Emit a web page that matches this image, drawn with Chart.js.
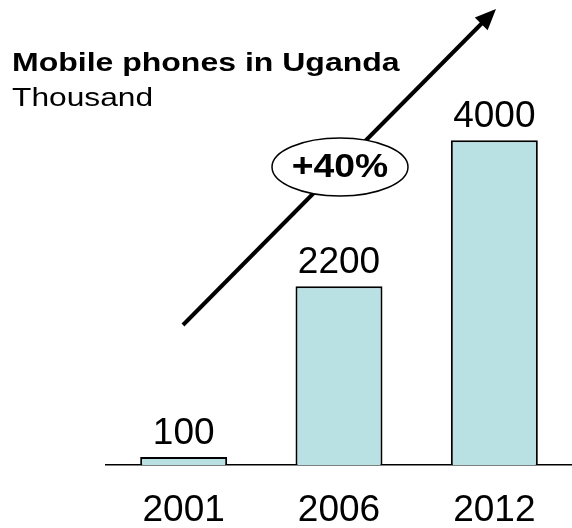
<!DOCTYPE html>
<html>
<head>
<meta charset="utf-8">
<title>Mobile phones in Uganda</title>
<script src="https://cdn.jsdelivr.net/npm/chart.js@4"></script>
<style>
  html, body { margin: 0; padding: 0; background: #fff; }
  #wrap { position: relative; width: 572px; height: 528px; }
</style>
</head>
<body>
<div id="wrap"><canvas id="phonesChart"></canvas></div>
<script>
const years = ['2001', '2006', '2012'];
const phones = [100, 2200, 4000];
const titleText = 'Mobile phones in Uganda';
const unitText = 'Thousand';
const growthText = '+40%';

const FONT = '"Liberation Sans", Arial, sans-serif';

// text helper: draws with an optional horizontal stretch
function stretchText(ctx, text, x, y, font, sx, align) {
    ctx.save();
    ctx.font = font;
    ctx.textAlign = align || 'left';
    ctx.textBaseline = 'alphabetic';
    ctx.fillStyle = '#000';
    ctx.translate(x, y);
    ctx.scale(sx, 1);
    ctx.fillText(text, 0, 0);
    ctx.restore();
}

// value over each bar
const barValues = {
    id: 'barValues',
    afterDatasetsDraw(chart) {
        const ctx = chart.ctx;
        const meta = chart.getDatasetMeta(0);
        meta.data.forEach((bar, i) => {
            stretchText(ctx, String(chart.data.datasets[0].data[i]), bar.x, bar.y - 13,
                '37px ' + FONT, 1, 'center');
        });
    }
};

// heading, growth arrow and the +40% bubble
const decorations = {
    id: 'decorations',
    afterDraw(chart) {
        const ctx = chart.ctx;
        stretchText(ctx, titleText, 12, 71, 'bold 25px ' + FONT, 1.28, 'left');
        stretchText(ctx, unitText, 12, 106, '26px ' + FONT, 1.22, 'left');

        // arrow
        const x0 = 183, y0 = 325, x1 = 496, y1 = 9;
        const ang = Math.atan2(y1 - y0, x1 - x0);
        const headLen = 21, headHalf = 9;
        const bx = x1 - headLen * Math.cos(ang), by = y1 - headLen * Math.sin(ang);
        ctx.save();
        ctx.strokeStyle = '#000';
        ctx.lineWidth = 4;
        ctx.beginPath();
        ctx.moveTo(x0, y0);
        ctx.lineTo(bx + 2 * Math.cos(ang), by + 2 * Math.sin(ang));
        ctx.stroke();
        ctx.fillStyle = '#000';
        ctx.beginPath();
        ctx.moveTo(x1, y1);
        ctx.lineTo(bx + headHalf * Math.sin(ang), by - headHalf * Math.cos(ang));
        ctx.lineTo(bx - headHalf * Math.sin(ang), by + headHalf * Math.cos(ang));
        ctx.closePath();
        ctx.fill();

        // bubble
        ctx.beginPath();
        ctx.ellipse(340, 167, 68, 29, 0, 0, Math.PI * 2);
        ctx.fillStyle = '#fff';
        ctx.fill();
        ctx.lineWidth = 1.5;
        ctx.strokeStyle = '#000';
        ctx.stroke();
        ctx.restore();
        stretchText(ctx, growthText, 340, 177, 'bold 33px ' + FONT, 1.13, 'center');
    }
};

new Chart(document.getElementById('phonesChart'), {
    type: 'bar',
    data: {
        labels: years,
        datasets: [{
            data: phones,
            backgroundColor: '#b9e0e3',
            borderColor: '#000',
            borderWidth: 2,
            barPercentage: 0.56,
            categoryPercentage: 1
        }]
    },
    options: {
        responsive: true,
        maintainAspectRatio: false,
        animation: false,
        // tick padding is counted twice in the axis height, hence the negative bottom
        layout: { padding: { left: 106, right: -4, top: 59, bottom: -28 } },
        plugins: {
            legend: { display: false },
            tooltip: { enabled: false }
        },
        scales: {
            x: {
                grid: { display: false, drawTicks: false },
                border: { display: true, color: '#000', width: 1.5 },
                ticks: {
                    color: '#000',
                    padding: 27,
                    font: { family: FONT, size: 37, lineHeight: 1 }
                }
            },
            y: {
                display: false,
                min: 0,
                max: 5000
            }
        }
    },
    plugins: [barValues, decorations]
});
</script>
</body>
</html>
